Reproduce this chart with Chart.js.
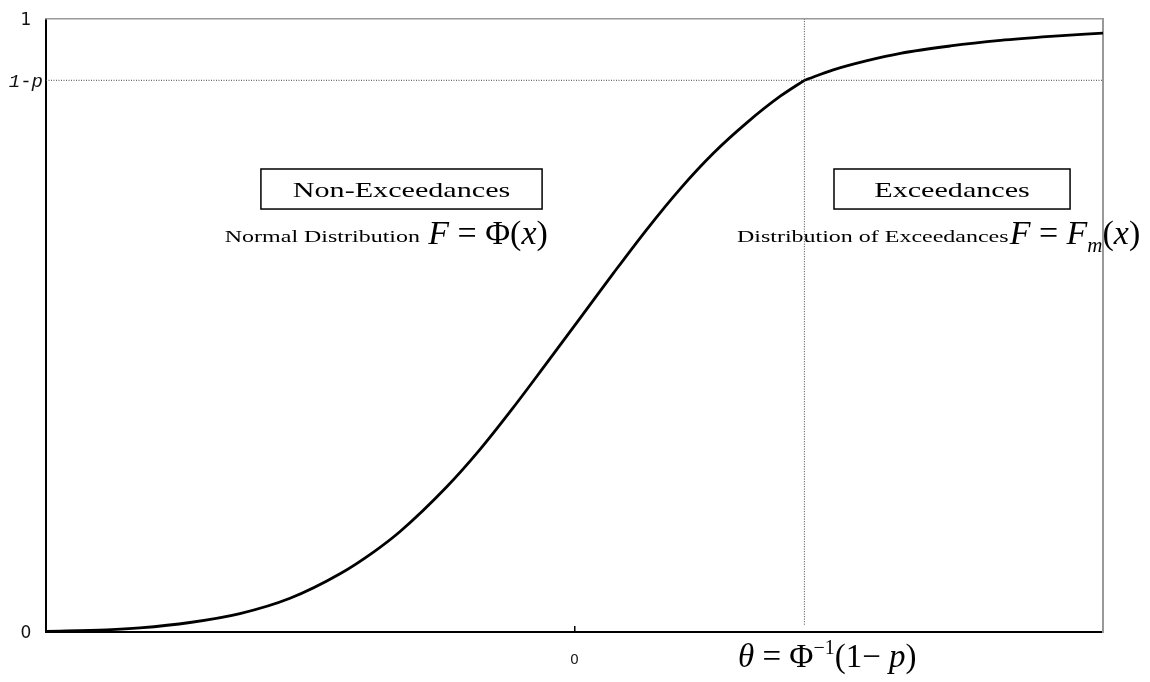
<!DOCTYPE html>
<html>
<head>
<meta charset="utf-8">
<script src="https://cdn.jsdelivr.net/npm/chart.js@4.4.1/dist/chart.umd.min.js"></script>
<style>
  html, body { margin: 0; padding: 0; background: #fff; }
  #wrap { width: 1150px; height: 682px; position: relative; }
</style>
</head>
<body>
<div id="wrap"><canvas id="c"></canvas></div>
<script>
// Standardised variable x on the horizontal axis, cumulative probability F on the vertical
const xRange = [-3, 3];
const threshold = 1.305;     // θ = Φ^{-1}(1 - p)
const tailLevel = 0.9;       // 1 - p

const yTickValues = [0, 0.9, 1];
const yTickLabels = ['0', '1-p', '1'];
const xTickValues = [0];
const xTickLabels = ['0'];

// Normal distribution F = Φ(x), up to the threshold
const normalX = [-3.0, -2.656, -2.467, -2.183, -1.899, -1.615, -1.331, -1.143, -0.990, -0.725,
                 -0.536, -0.348, -0.157, 0.032, 0.220, 0.411, 0.600, 0.788, 0.979, 1.168, 1.305];
const normalF = [0.001, 0.0035, 0.0067, 0.0155, 0.030, 0.055, 0.095, 0.130, 0.164, 0.237,
                 0.298, 0.366, 0.439, 0.512, 0.585, 0.657, 0.723, 0.781, 0.831, 0.874, 0.900];

// Distribution of exceedances F = F_m(x), beyond the threshold
const excessX = [1.305, 1.469, 1.661, 1.850, 2.134, 2.418, 2.702, 3.0];
const excessF = [0.900, 0.917, 0.932, 0.944, 0.956, 0.965, 0.9715, 0.977];

const SERIF = '"Liberation Serif", "Times New Roman", serif';
const TEXT_STRETCH = 1.37;   // word labels are set wide; formulas keep natural width

// Framed region labels (anchored in axis units)
const regionBoxes = [
  { text: 'Non-Exceedances', x0: -1.780, x1: -0.184, yTop: 0.7553, yBot: 0.690 },
  { text: 'Exceedances',     x0: 1.473,  x1: 2.813,  yTop: 0.7553, yBot: 0.690 }
];

// Captions built from text runs, left edge and baseline in axis units
const captions = [
  { x: -1.985, y: 0.636, stretch: TEXT_STRETCH,
    runs: [{ t: 'Normal Distribution', size: 17.5 }] },
  { x: -0.830, y: 0.633,
    runs: [{ t: 'F', size: 34, italic: true }, { t: ' = ', size: 34 }, { t: 'Φ', size: 34 },
           { t: '(', size: 34 }, { t: 'x', size: 34, italic: true }, { t: ')', size: 34 }] },
  { x: 0.922, y: 0.636, stretch: TEXT_STRETCH,
    runs: [{ t: 'Distribution of Exceedances', size: 17.5 }] },
  { x: 2.470, y: 0.633,
    runs: [{ t: 'F', size: 34, italic: true }, { t: ' = ', size: 34 }, { t: 'F', size: 34, italic: true },
           { t: 'm', size: 21, italic: true, dy: 8 }, { t: '(', size: 34 }, { t: 'x', size: 34, italic: true },
           { t: ')', size: 34 }] },
  { x: 0.928, y: -0.0571,
    runs: [{ t: 'θ', size: 33, italic: true }, { t: ' = ', size: 33 }, { t: 'Φ', size: 33 },
           { t: '−1', size: 20, dy: -13 }, { t: '(1− ', size: 33 }, { t: 'p', size: 33, italic: true },
           { t: ')', size: 33 }] }
];

function runFont(r) {
  return (r.italic ? 'italic ' : '') + r.size + 'px ' + SERIF;
}

function measureRuns(ctx, runs) {
  let w = 0;
  runs.forEach(r => { ctx.font = runFont(r); r._w = ctx.measureText(r.t).width; w += r._w; });
  return w;
}

function drawRuns(ctx, runs, left, baseline, sx) {
  measureRuns(ctx, runs);
  ctx.save();
  ctx.translate(left, baseline);
  ctx.scale(sx || 1, 1);
  ctx.fillStyle = '#000';
  ctx.textAlign = 'left';
  ctx.textBaseline = 'alphabetic';
  let cx = 0;
  runs.forEach(r => { ctx.font = runFont(r); ctx.fillText(r.t, cx, r.dy || 0); cx += r._w; });
  ctx.restore();
}

const annotationPlugin = {
  id: 'regionAnnotations',
  afterDraw(chart) {
    const ctx = chart.ctx;
    const xs = chart.scales.x, ys = chart.scales.y;

    regionBoxes.forEach(b => {
      const l = xs.getPixelForValue(b.x0), r = xs.getPixelForValue(b.x1);
      const t = ys.getPixelForValue(b.yTop), btm = ys.getPixelForValue(b.yBot);
      ctx.save();
      ctx.fillStyle = '#fff';
      ctx.fillRect(l, t, r - l, btm - t);
      ctx.strokeStyle = '#000';
      ctx.lineWidth = 1.5;
      ctx.strokeRect(l, t, r - l, btm - t);
      ctx.restore();
      const runs = [{ t: b.text, size: 22 }];
      const w = measureRuns(ctx, runs) * TEXT_STRETCH;
      drawRuns(ctx, runs, (l + r) / 2 - w / 2, (t + btm) / 2 + 7.5, TEXT_STRETCH);
    });

    captions.forEach(c => {
      drawRuns(ctx, c.runs, xs.getPixelForValue(c.x), ys.getPixelForValue(c.y), c.stretch);
    });
  }
};

const curveStyle = {
  showLine: true, borderColor: '#000', borderWidth: 2.8, pointRadius: 0,
  cubicInterpolationMode: 'monotone', fill: false
};
const guideStyle = {
  showLine: true, borderColor: '#444', borderWidth: 1, borderDash: [1, 1.5], pointRadius: 0, fill: false
};

new Chart(document.getElementById('c'), {
  type: 'scatter',
  data: {
    datasets: [
      Object.assign({ label: 'Normal distribution', data: normalX.map((x, i) => ({ x, y: normalF[i] })), order: 1 }, curveStyle),
      Object.assign({ label: 'Distribution of exceedances', data: excessX.map((x, i) => ({ x, y: excessF[i] })), order: 1 }, curveStyle),
      Object.assign({ label: '1-p', data: [{ x: xRange[0], y: tailLevel }, { x: xRange[1], y: tailLevel }], order: 2 }, guideStyle),
      Object.assign({ label: 'theta', data: [{ x: threshold, y: 0.012 }, { x: threshold, y: 1 }], order: 2 }, guideStyle)
    ]
  },
  options: {
    responsive: true,
    maintainAspectRatio: false,
    animation: false,
    layout: { padding: { top: 19, right: 47, left: 0, bottom: 0 } },
    plugins: { legend: { display: false }, tooltip: { enabled: false } },
    scales: {
      x: {
        type: 'linear', position: 'bottom', min: xRange[0], max: xRange[1],
        afterBuildTicks: s => { s.ticks = xTickValues.map(v => ({ value: v })); },
        afterFit: s => { s.height = 50; },
        grid: { display: true, drawOnChartArea: false, drawTicks: true, tickLength: -6, color: '#000', lineWidth: 1.5 },
        border: { display: true, color: '#000', width: 2 },
        ticks: {
          padding: 26, color: '#222', maxRotation: 0,
          font: { family: '"DejaVu Sans", sans-serif', size: 14 },
          callback: v => { const i = xTickValues.indexOf(v); return i >= 0 ? xTickLabels[i] : ''; }
        }
      },
      y: {
        type: 'linear', position: 'left', min: 0, max: 1,
        afterBuildTicks: s => { s.ticks = yTickValues.map(v => ({ value: v })); },
        afterFit: s => { s.width = 46; },
        grid: { display: false, drawTicks: false },
        border: { display: true, color: '#000', width: 2 },
        ticks: {
          crossAlign: 'center', padding: 3, color: '#111', labelOffset: 2,
          font: c => (c.tick && c.tick.value === tailLevel)
            ? { family: '"Liberation Mono", "Courier New", monospace', size: 19, style: 'italic' }
            : { family: '"DejaVu Sans", sans-serif', size: 17 },
          callback: v => { const i = yTickValues.indexOf(v); return i >= 0 ? yTickLabels[i] : ''; }
        }
      },
      xTop: {
        type: 'linear', position: 'top', min: xRange[0], max: xRange[1],
        ticks: { display: false }, grid: { display: false },
        border: { display: true, color: '#999', width: 1.5 },
        afterFit: s => { s.height = 0; }
      },
      yRight: {
        type: 'linear', position: 'right', min: 0, max: 1,
        ticks: { display: false }, grid: { display: false },
        border: { display: true, color: '#999', width: 2 },
        afterFit: s => { s.width = 0; }
      }
    }
  },
  plugins: [annotationPlugin]
});
</script>
</body>
</html>
